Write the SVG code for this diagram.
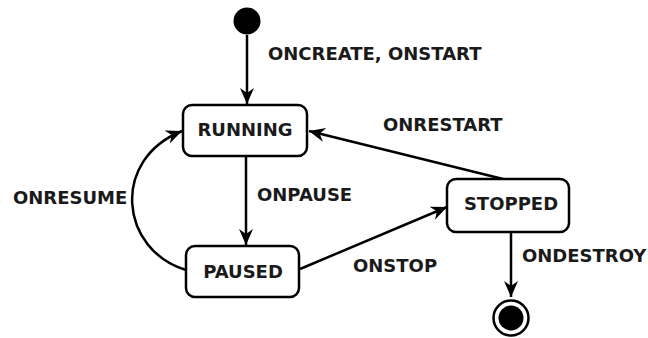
<svg xmlns="http://www.w3.org/2000/svg" width="648" height="338" viewBox="0 0 648 338">
<style>
.box{fill:#fff;stroke:#000;stroke-width:2.5}
.t{font-family:"DejaVu Sans","Verdana",sans-serif;font-weight:bold;font-size:18px;fill:#1a1a1a}
.c{fill:none;stroke:#000;stroke-width:2.5}
</style>
<defs>
<marker id="arr" viewBox="-18 -9 19 18" refX="0" refY="0" markerWidth="19" markerHeight="18" markerUnits="userSpaceOnUse" orient="auto">
<path d="M0,0 L-16,-7 L-11,0 L-16,7 Z" fill="#000"/>
</marker>
</defs>
<rect width="648" height="338" fill="#fff"/>
<g id="connectors">
<path class="c" d="M247,35 L247,104" marker-end="url(#arr)"/>
<path class="c" d="M246,157 L246,245" marker-end="url(#arr)"/>
<path class="c" d="M186,270 C120,250 110,160 182,131" marker-end="url(#arr)"/>
<path class="c" d="M300,269 L447,207" marker-end="url(#arr)"/>
<path class="c" d="M503,179 L309,131" marker-end="url(#arr)"/>
<path class="c" d="M511,232 L511,297" marker-end="url(#arr)"/>
</g>
<g id="labels">
<text class="t" x="268" y="60">ONCREATE, ONSTART</text>
<text class="t" x="383" y="131">ONRESTART</text>
<text class="t" x="257" y="201">ONPAUSE</text>
<text class="t" x="13" y="204">ONRESUME</text>
<text class="t" x="353" y="272">ONSTOP</text>
<text class="t" x="522" y="262">ONDESTROY</text>
</g>
<g id="start"><circle cx="247" cy="21" r="13.5" fill="#000"/></g>
<g id="running"><rect class="box" x="183" y="105" width="124" height="51" rx="9"/><text class="t" x="245" y="136" text-anchor="middle">RUNNING</text></g>
<g id="paused"><rect class="box" x="186" y="246" width="113" height="51" rx="9"/><text class="t" x="243" y="278" text-anchor="middle">PAUSED</text></g>
<g id="stopped"><rect class="box" x="447" y="179" width="122" height="53" rx="9"/><text class="t" x="511" y="210" text-anchor="middle">STOPPED</text></g>
<g id="end"><circle cx="511" cy="318" r="17.5" fill="#fff" stroke="#000" stroke-width="2.5"/><circle cx="511" cy="318" r="12.5" fill="#000"/></g>
</svg>
